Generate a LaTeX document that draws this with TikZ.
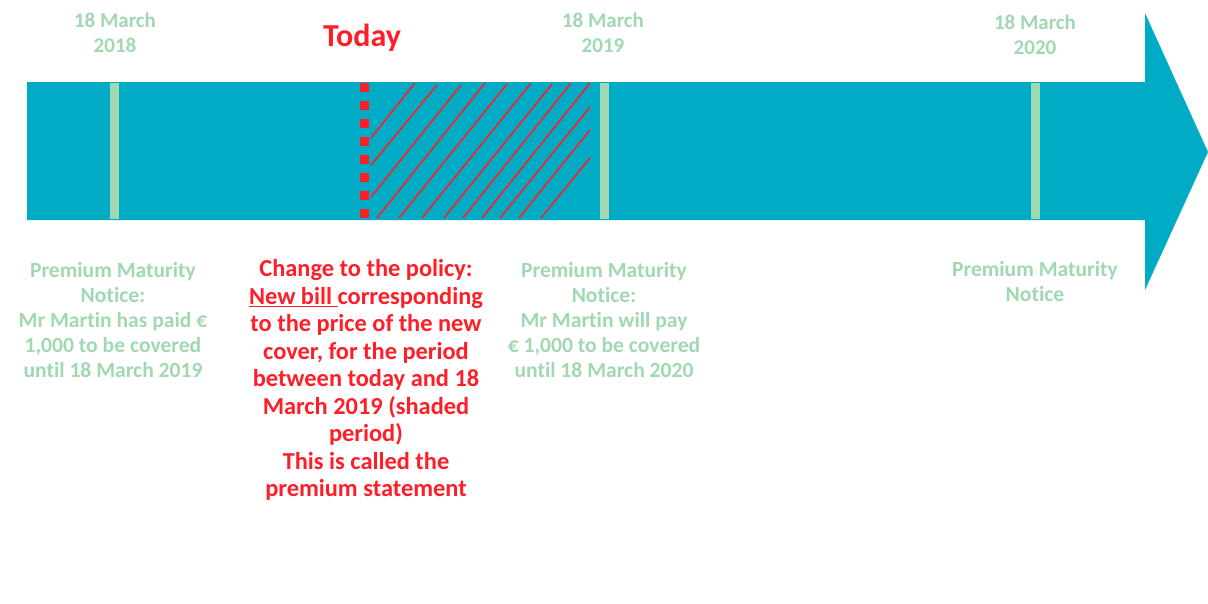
\documentclass[tikz,border=0pt]{standalone}
\usepackage{fontspec}
\setmainfont[Ligatures=NoCommon]{Carlito}
\usetikzlibrary{positioning}
\definecolor{arrowteal}{RGB}{0,172,197}
\definecolor{notegreen}{RGB}{160,216,178}
\definecolor{alertred}{RGB}{255,30,40}

\begin{document}
\begin{tikzpicture}[x=1pt, y=-1pt]
% Styles
\tikzstyle{datetext} = [font=\bfseries\fontsize{21}{25}\selectfont, text=notegreen, align=center, inner sep=0pt]
\tikzstyle{notetext} = [font=\bfseries\fontsize{21.6}{25}\selectfont, text=notegreen, align=center, inner sep=0pt]
\tikzstyle{changetext} = [font=\bfseries\fontsize{24.4}{27.5}\selectfont, text=alertred, align=center, inner sep=0pt]
\tikzstyle{todaytext} = [font=\bfseries\fontsize{32}{36}\selectfont, text=alertred, inner sep=0pt]
\tikzstyle{maturity} = [fill=notegreen]
\tikzstyle{hatch} = [draw=alertred, line width=1.6pt]

\useasboundingbox (0,0) rectangle (1208,603);

% Timeline arrow
\fill[arrowteal] (27,82) -- (1145,82) -- (1145,13) -- (1208,152) -- (1145,290) -- (1145,220) -- (27,220) -- cycle;

% Maturity bars
\fill[maturity] (110,83) rectangle (119,219);
\fill[maturity] (600,83) rectangle (609,219);
\fill[maturity] (1031,83) rectangle (1040,219);

% Today marker and shaded period
\foreach \y in {83,101,...,209}
  \fill[alertred] (360,\y) rectangle ++(9,9);
\foreach \xa/\ya/\xb/\yb in {371/138/415/83, 371/165/437/85, 371/197/461/85,
    377/218/485/83, 399/218/507/84, 422/218/531/83, 444/218/552/84,
    463/218/571/83, 482/218/590/83, 500/218/590/107, 519/218/590/130, 541/218/590/158}
  \draw[hatch] (\xa,\ya) -- (\xb,\yb);

% Nodes
\node[datetext] (date2018) at (115,33) {18 March\\2018};
\node[todaytext] (today) at (362,38) {Today};
\node[datetext] (date2019) at (603,33) {18 March\\2019};
\node[datetext] (date2020) at (1035,35) {18 March\\2020};

\node[notetext] (notice2018) at (113,320) {Premium Maturity\\Notice:\\Mr Martin has paid €\\1,000 to be covered\\until 18 March 2019};
\node[changetext] (change) at (366,380) {Change to the policy:\\\underline{New bill\ }corresponding\\to the price of the new\\cover, for the period\\between today and 18\\March 2019 (shaded\\period)\\This is called the\\premium statement};
\node[notetext] (notice2019) at (604,320) {Premium Maturity\\Notice:\\Mr Martin will pay\\€ 1,000 to be covered\\until 18 March 2020};
\node[notetext] (notice2020) at (1035,281) {Premium Maturity\\Notice};
\end{tikzpicture}
\end{document}
